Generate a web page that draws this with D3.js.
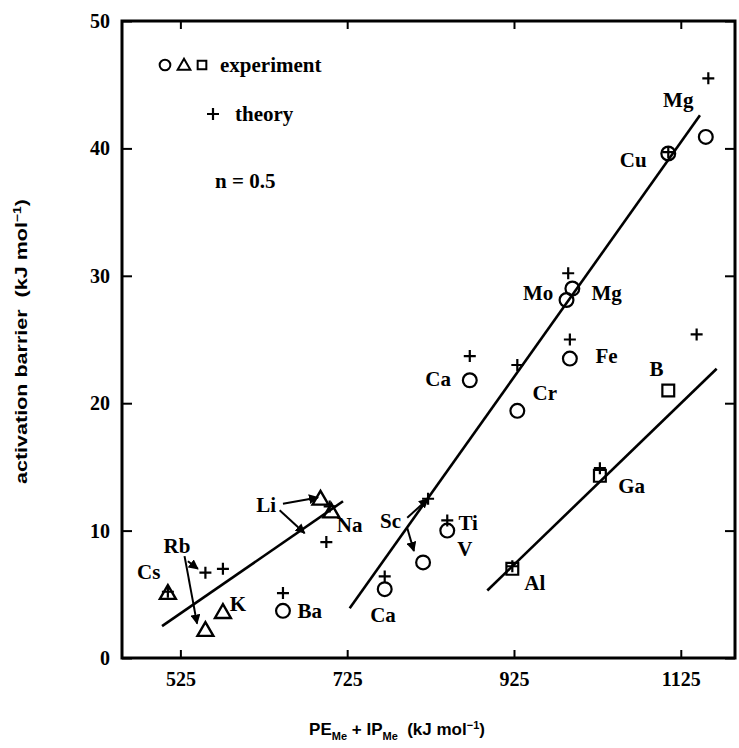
<!DOCTYPE html>
<html><head><meta charset="utf-8">
<script src="https://cdn.jsdelivr.net/npm/d3@7/dist/d3.min.js"></script>
<style>body{margin:0;background:#fff}</style>
</head><body><svg id="c" width="739" height="748"></svg>
<script>
// ---- data ----
const xTicks = [525, 725, 925, 1125];
const yTicks = [0, 10, 20, 30, 40, 50];

const expCircleX = [1155, 1110, 988, 995, 992, 929, 872, 845, 816, 770, 648];
const expCircleY = [40.9, 39.6, 28.1, 29.0, 23.5, 19.4, 21.8, 10.0, 7.5, 5.4, 3.7];
const expTriX = [510, 555, 576, 693, 706];
const expTriY = [5.0, 2.1, 3.5, 12.4, 11.4];
const expSqX = [923, 1028, 1110];
const expSqY = [7.0, 14.3, 21.0];
const theoryX = [1158, 1110, 990, 992, 929, 872, 845, 822, 770, 648, 1144, 1028, 923, 700, 704, 555, 576, 510];
const theoryY = [45.5, 39.7, 30.2, 25.0, 23.0, 23.7, 10.8, 12.5, 6.4, 5.1, 25.4, 14.9, 7.2, 9.1, 11.9, 6.7, 7.0, 5.2];

const fitX1 = [503, 728, 893], fitY1 = [2.5, 3.9, 5.3];
const fitX2 = [720, 1148, 1168], fitY2 = [12.3, 42.6, 22.7];

const labelText = ["Mg","Cu","Mo","Mg","Fe","Cr","Ca","Ti","V","Sc","Ca","Ba","Li","Na","Rb","Cs","K","Al","Ga","B"];
const labelX = [1122,1068,954,1036,1036,962,834,870,866,777,768,680,628,728,521,487,594,950,1066,1096];
const labelY = [43.8,39.1,28.7,28.7,23.7,20.8,21.9,10.6,8.6,10.8,3.4,3.7,12.0,10.5,8.8,6.8,4.3,5.9,13.5,22.7];

const arrowX1 = [530, 534, 648, 644, 797, 797], arrowY1 = [8.0, 7.6, 12.1, 11.6, 11.0, 10.2];
const arrowX2 = [545, 546, 690, 674, 822, 805], arrowY2 = [2.7, 7.0, 12.6, 9.8, 12.5, 8.4];

// ---- chart ----
const svg = d3.select("#c");
const x = d3.scaleLinear().domain([455, 1190]).range([122, 735]);
const y = d3.scaleLinear().domain([0, 50]).range([658, 21]);
const serif = "'Liberation Serif','Times New Roman',serif";
const sans = "'Liberation Sans',Arial,sans-serif";

svg.append("defs").append("marker")
  .attr("id","ah").attr("viewBox","0 0 10 10").attr("refX",9).attr("refY",5)
  .attr("markerWidth",5).attr("markerHeight",5).attr("orient","auto")
  .append("path").attr("d","M0,0 L10,5 L0,10 z").attr("fill","#000");

// axes
const gB = svg.append("g").attr("transform",`translate(0,${y(0)})`)
  .call(d3.axisBottom(x).tickValues(xTicks).tickSize(-8).tickPadding(14).tickFormat(d3.format("d")));
const gL = svg.append("g").attr("transform",`translate(${x(455)},0)`)
  .call(d3.axisLeft(y).tickValues(yTicks).tickSize(-10).tickPadding(12).tickFormat(d3.format("d")));
const gT = svg.append("g").attr("transform",`translate(0,${y(50)})`)
  .call(d3.axisTop(x).tickValues(xTicks).tickSize(-8).tickFormat(""));
const gR = svg.append("g").attr("transform",`translate(${x(1190)},0)`)
  .call(d3.axisRight(y).tickValues(yTicks).tickSize(-10).tickFormat(""));
[gB,gL,gT,gR].forEach(g=>{
  g.select(".domain").remove();
  g.selectAll(".tick line").attr("stroke","#000").attr("stroke-width",2);
  g.selectAll("text").attr("font-family",serif).attr("font-weight","bold")
   .attr("font-size",20).attr("fill","#000");
});

svg.append("rect").attr("x",x(455)).attr("y",y(50))
  .attr("width",x(1190)-x(455)).attr("height",y(0)-y(50))
  .attr("fill","none").attr("stroke","#000").attr("stroke-width",3);

// axis titles
svg.append("text").attr("transform",`translate(27,${y(25)+2}) rotate(-90)`)
  .attr("text-anchor","middle").attr("font-family",sans).attr("font-weight","bold")
  .attr("font-size",17).attr("textLength",285).attr("lengthAdjust","spacingAndGlyphs")
  .html('activation barrier&#160;&#160;(kJ mol<tspan dy="-6" font-size="11">−1</tspan><tspan dy="6">)</tspan>');

const xt = svg.append("text").attr("x",397).attr("y",735).attr("text-anchor","middle")
  .attr("font-family",sans).attr("font-size",17).attr("font-weight","bold");
xt.html('PE<tspan dy="5" font-size="11">Me</tspan><tspan dy="-5"> + IP</tspan><tspan dy="5" font-size="11">Me</tspan><tspan dy="-5">&#160;&#160;(kJ mol</tspan><tspan dy="-6" font-size="11">−1</tspan><tspan dy="6">)</tspan>');

// fit lines
svg.append("g").selectAll("line").data(fitX1).join("line")
  .attr("x1",(d,i)=>x(fitX1[i])).attr("y1",(d,i)=>y(fitY1[i]))
  .attr("x2",(d,i)=>x(fitX2[i])).attr("y2",(d,i)=>y(fitY2[i]))
  .attr("stroke","#000").attr("stroke-width",2.6);

// arrows
svg.append("g").selectAll("line").data(arrowX1).join("line")
  .attr("x1",(d,i)=>x(arrowX1[i])).attr("y1",(d,i)=>y(arrowY1[i]))
  .attr("x2",(d,i)=>x(arrowX2[i])).attr("y2",(d,i)=>y(arrowY2[i]))
  .attr("stroke","#000").attr("stroke-width",2).attr("marker-end","url(#ah)");

// markers
const circ = d3.symbol().type(d3.symbolCircle).size(150);
const tri = d3.symbol().type(d3.symbolTriangle).size(110);
const sq = d3.symbol().type(d3.symbolSquare).size(140);

svg.append("g").selectAll("path").data(expCircleX).join("path")
  .attr("d",circ).attr("transform",(d,i)=>`translate(${x(expCircleX[i])},${y(expCircleY[i])})`)
  .attr("fill","none").attr("stroke","#000").attr("stroke-width",2.2);
svg.append("g").selectAll("path").data(expTriX).join("path")
  .attr("d",tri).attr("transform",(d,i)=>`translate(${x(expTriX[i])},${y(expTriY[i])})`)
  .attr("fill","none").attr("stroke","#000").attr("stroke-width",2.4);
svg.append("g").selectAll("path").data(expSqX).join("path")
  .attr("d",sq).attr("transform",(d,i)=>`translate(${x(expSqX[i])},${y(expSqY[i])})`)
  .attr("fill","none").attr("stroke","#000").attr("stroke-width",2.2);
// plus signs (theory)
svg.append("g").selectAll("path").data(theoryX).join("path")
  .attr("d",(d,i)=>{const cx=x(theoryX[i]), cy=y(theoryY[i]);
    return `M${cx-6},${cy}H${cx+6}M${cx},${cy-6}V${cy+6}`;})
  .attr("stroke","#000").attr("stroke-width",2.2);

// labels
svg.append("g").selectAll("text").data(labelText).join("text")
  .attr("x",(d,i)=>x(labelX[i])).attr("y",(d,i)=>y(labelY[i]))
  .attr("dy","0.35em").attr("text-anchor","middle")
  .attr("font-family",serif).attr("font-weight","bold").attr("font-size",21)
  .text(d=>d);

// legend
const lg = svg.append("g");
lg.append("path").attr("d",circ.size(90)()).attr("transform","translate(165,65)")
  .attr("fill","none").attr("stroke","#000").attr("stroke-width",2);
lg.append("path").attr("d",tri.size(70)()).attr("transform","translate(184,66)")
  .attr("fill","none").attr("stroke","#000").attr("stroke-width",2);
lg.append("path").attr("d",sq.size(75)()).attr("transform","translate(202,65)")
  .attr("fill","none").attr("stroke","#000").attr("stroke-width",2);
lg.append("text").attr("x",220).attr("y",65).attr("dy","0.35em")
  .attr("font-family",serif).attr("font-weight","bold").attr("font-size",21).text("experiment");
lg.append("path").attr("d","M207,114H219M213,108V120").attr("stroke","#000").attr("stroke-width",2.2);
lg.append("text").attr("x",235).attr("y",114).attr("dy","0.35em")
  .attr("font-family",serif).attr("font-weight","bold").attr("font-size",21).text("theory");
lg.append("text").attr("x",215).attr("y",181).attr("dy","0.35em")
  .attr("font-family",serif).attr("font-weight","bold").attr("font-size",21).text("n = 0.5");
</script></body></html>
